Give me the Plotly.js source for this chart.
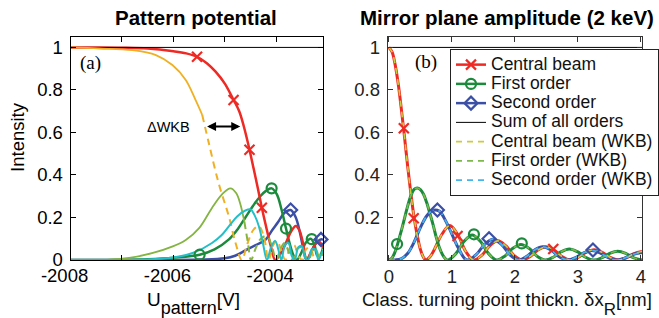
<!DOCTYPE html>
<html><head><meta charset="utf-8">
<script src="https://cdn.plot.ly/plotly-3.0.1.min.js"></script>
<style>html,body{margin:0;padding:0;background:#fff}#chart{width:659px;height:318px}</style>
</head><body><div id="chart"></div>
<script>
// ===== Left panel: Pattern potential (U_pattern in V, intensity) =====
const leftCentralU = [-2008, -2007.5, -2007, -2006.5, -2006.0, -2005.75, -2005.54, -2005.35, -2005.18, -2005.0, -2004.83, -2004.72, -2004.63, -2004.52, -2004.44, -2004.36, -2004.28, -2004.2, -2004.11, -2004.02, -2003.93, -2003.83, -2003.72, -2003.62, -2003.55, -2003.48, -2003.41, -2003.33, -2003.24, -2003.16, -2003.09];
const leftCentralI = [1.0, 1.0, 0.999, 0.995, 0.982, 0.972, 0.956, 0.926, 0.886, 0.83, 0.753, 0.70, 0.628, 0.519, 0.43, 0.34, 0.246, 0.16, 0.07, 0.0, 0.025, 0.07, 0.13, 0.16, 0.14, 0.08, 0.0, 0.035, 0.075, 0.085, 0.06];
const leftCentralMarkU = [-2005.54, -2004.83, -2004.52, -2004.28];
const leftCentralMarkI = [0.956, 0.753, 0.519, 0.246];

const leftFirstU = [-2008, -2007, -2006.5, -2006.0, -2005.49, -2005.2, -2004.92, -2004.75, -2004.6, -2004.45, -2004.31, -2004.2, -2004.09, -2003.99, -2003.9, -2003.81, -2003.73, -2003.66, -2003.6, -2003.52, -2003.43, -2003.33, -2003.26, -2003.2, -2003.14, -2003.09];
const leftFirstI = [0, 0.001, 0.004, 0.011, 0.025, 0.05, 0.097, 0.145, 0.2, 0.255, 0.3, 0.325, 0.337, 0.31, 0.24, 0.148, 0.07, 0.02, 0.0, 0.03, 0.08, 0.1, 0.075, 0.02, 0.025, 0.06];
const leftFirstMarkU = [-2005.49, -2004.09, -2003.81, -2003.31];
const leftFirstMarkI = [0.025, 0.337, 0.148, 0.098];

const leftSecondU = [-2008, -2006, -2005.5, -2005.0, -2004.8, -2004.6, -2004.4, -2004.21, -2004.08, -2003.96, -2003.84, -2003.72, -2003.62, -2003.54, -2003.47, -2003.41, -2003.33, -2003.24, -2003.13, -2003.09];
const leftSecondI = [0, 0, 0.002, 0.008, 0.02, 0.045, 0.07, 0.095, 0.14, 0.18, 0.222, 0.235, 0.2, 0.13, 0.05, 0.0, 0.03, 0.075, 0.097, 0.095];
const leftSecondMarkU = [-2003.72, -2003.13];
const leftSecondMarkI = [0.235, 0.097];

const leftCentralWkbU = [-2008, -2007.44, -2006.8, -2006.34, -2006.02, -2005.76, -2005.57, -2005.44, -2005.31, -2005.12, -2004.92, -2004.79, -2004.67, -2004.57, -2004.45, -2004.34, -2004.24, -2004.15, -2004.06, -2003.98, -2003.9, -2003.82, -2003.73, -2003.65, -2003.57, -2003.49, -2003.42, -2003.34, -2003.27, -2003.2, -2003.13, -2003.09];
const leftCentralWkbI = [1.0, 0.995, 0.987, 0.964, 0.917, 0.847, 0.753, 0.683, 0.549, 0.361, 0.204, 0.079, 0.0, 0.07, 0.14, 0.16, 0.11, 0.0, 0.07, 0.09, 0.04, 0.0, 0.06, 0.07, 0.02, 0.0, 0.05, 0.06, 0.015, 0.0, 0.04, 0.05];
const leftCentralWkbSolidEnd = 8;   // first points drawn solid, rest dashed

const leftFirstWkbU = [-2008, -2007.3, -2006.86, -2006.4, -2006.0, -2005.76, -2005.5, -2005.25, -2005.05, -2004.89, -2004.78, -2004.7, -2004.62, -2004.55, -2004.49, -2004.4, -2004.3, -2004.18, -2004.08, -2004.0, -2003.92, -2003.84, -2003.76, -2003.68, -2003.6, -2003.52, -2003.44, -2003.37, -2003.3, -2003.23, -2003.16, -2003.09];
const leftFirstWkbI = [0, 0.001, 0.01, 0.033, 0.065, 0.094, 0.15, 0.245, 0.31, 0.337, 0.315, 0.265, 0.18, 0.08, 0.0, 0.055, 0.1, 0.113, 0.06, 0.0, 0.05, 0.08, 0.04, 0.0, 0.05, 0.06, 0.02, 0.0, 0.04, 0.05, 0.01, 0.03];
const leftFirstWkbSolidEnd = 13;

const leftSecondWkbU = [-2008, -2007, -2006.6, -2006.0, -2005.6, -2005.25, -2005.05, -2004.9, -2004.76, -2004.6, -2004.5, -2004.42, -2004.34, -2004.26, -2004.18, -2004.1, -2004.02, -2003.96, -2003.9, -2003.83, -2003.76, -2003.7, -2003.64, -2003.57, -2003.5, -2003.44, -2003.38, -2003.31, -2003.24, -2003.18, -2003.12, -2003.09];
const leftSecondWkbI = [0, 0, 0.002, 0.012, 0.035, 0.08, 0.12, 0.165, 0.205, 0.233, 0.238, 0.21, 0.16, 0.08, 0.0, 0.06, 0.09, 0.05, 0.0, 0.07, 0.08, 0.02, 0.0, 0.06, 0.065, 0.01, 0.0, 0.05, 0.05, 0.0, 0.03, 0.045];

const leftSumU = [-2008, -2003.09];
const leftSumI = [1, 1];

// ===== Right panel: Mirror plane amplitude (x in nm) =====
const rightCentralX = [0, 0.05, 0.1, 0.15, 0.2, 0.25, 0.3, 0.35, 0.4, 0.45, 0.5, 0.55, 0.587, 0.65, 0.714, 0.84, 0.967, 1.093, 1.22, 1.346, 1.474, 1.601, 1.729, 1.856, 1.984, 2.111, 2.239, 2.366, 2.494, 2.621, 2.749, 2.876, 3.004, 3.131, 3.259, 3.386, 3.514, 3.642, 3.768, 3.894, 4.02];
const rightCentralI = [1.0, 0.979, 0.918, 0.824, 0.704, 0.573, 0.436, 0.31, 0.2, 0.116, 0.05, 0.012, 0, 0.014, 0.045, 0.12, 0.162, 0.12, 0.04, 0, 0.022, 0.067, 0.09, 0.067, 0.022, 0, 0.016, 0.047, 0.062, 0.047, 0.016, 0, 0.012, 0.036, 0.048, 0.036, 0.012, 0, 0.01, 0.03, 0.04];
const rightCentralMarkX = [0.237, 0.394, 1.09, 2.61];
const rightCentralMarkI = [0.62, 0.196, 0.113, 0.052];

const rightFirstX = [0, 0.05, 0.1, 0.15, 0.2, 0.25, 0.3, 0.35, 0.4, 0.45, 0.5, 0.55, 0.6, 0.65, 0.7, 0.75, 0.8, 0.85, 0.9, 0.935, 1.064, 1.194, 1.323, 1.452, 1.582, 1.711, 1.839, 1.968, 2.096, 2.224, 2.353, 2.481, 2.609, 2.737, 2.865, 2.993, 3.121, 3.249, 3.377, 3.505, 3.633, 3.761, 3.889, 4.017];
const rightFirstI = [0, 0.01, 0.04, 0.087, 0.141, 0.198, 0.256, 0.303, 0.332, 0.339, 0.331, 0.309, 0.27, 0.22, 0.168, 0.109, 0.06, 0.026, 0.005, 0, 0.03, 0.088, 0.118, 0.088, 0.03, 0, 0.018, 0.055, 0.073, 0.055, 0.018, 0, 0.013, 0.039, 0.052, 0.039, 0.013, 0, 0.01, 0.031, 0.041, 0.031, 0.01, 0];
const rightFirstMarkX = [0.13, 1.35, 2.11];
const rightFirstMarkI = [0.075, 0.121, 0.078];

const rightSecondX = [0, 0.1, 0.2, 0.3, 0.4, 0.5, 0.6, 0.7, 0.8, 0.9, 1.0, 1.1, 1.2, 1.253, 1.386, 1.52, 1.653, 1.786, 1.92, 2.053, 2.183, 2.313, 2.443, 2.574, 2.704, 2.834, 2.963, 3.093, 3.222, 3.351, 3.481, 3.61, 3.74, 3.87, 4.02];
const rightSecondI = [0, 0.0004, 0.0067, 0.032, 0.084, 0.152, 0.207, 0.234, 0.23, 0.185, 0.122, 0.058, 0.008, 0, 0.025, 0.074, 0.098, 0.074, 0.025, 0, 0.016, 0.047, 0.062, 0.047, 0.016, 0, 0.011, 0.034, 0.045, 0.034, 0.011, 0, 0.009, 0.026, 0.035];
const rightSecondMarkX = [0.77, 1.59, 3.24];
const rightSecondMarkI = [0.235, 0.1, 0.047];

const rightSumX = [0, 4.02];
const rightSumI = [1, 1];

const seriesNames = ['Central beam', 'First order', 'Second order', 'Sum of all orders',
  'Central beam (WKB)', 'First order (WKB)', 'Second order (WKB)'];
const xTicksLeft = [-2008, -2007, -2006, -2005, -2004, -2003];
const xTickTextLeft = ['-2008', '', '-2006', '', '-2004', ''];
const xTicksRight = [0, 1, 2, 3, 4];
const yTicks = [0, 0.2, 0.4, 0.6, 0.8, 1];
const yTickTextLeft = ['0', '0.2', '0.4', '0.6', '0.8', '1'];
const yTickTextRight = ['', '0.2', '0.4', '0.6', '0.8', '1'];
const deltaWkb = {from: -2005.375, to: -2004.70, level: 0.628};

// ===== styling =====
const W = 659, H = 318;
const FONT = 'Liberation Sans, Arial, sans-serif';
const C = {red: '#ee2a24', green: '#1b8a3c', blue: '#3b4fa6',
  orange: '#f0b023', lgreen: '#84b441', cyan: '#23bfc8',
  wkb0: '#cdcb3c', wkb1: '#7cb94a', wkb2: '#44b4ec'};
const px = v => v / W, py = v => 1 - v / H;
const gaps = a => { const o = []; a.forEach((v, i) => { if (i) o.push(null); o.push(v); }); return o; };
const big = s => '<span style="font-size:17.5px">' + s + '</span>';

function line(x, y, color, width, dash, xa, ya, extra) {
  return Object.assign({type: 'scatter', mode: 'lines', x: x, y: y, xaxis: xa, yaxis: ya,
    line: {color: color, width: width, dash: dash || 'solid', shape: 'spline', smoothing: 1},
    showlegend: false, hoverinfo: 'skip', cliponaxis: true}, extra || {});
}
function marks(x, y, color, symbol, xa, ya, extra) {
  return Object.assign({type: 'scatter', mode: 'lines+markers', x: gaps(x), y: gaps(y), xaxis: xa, yaxis: ya,
    connectgaps: false, line: {color: color, width: 2.5},
    marker: {symbol: symbol, size: 10, color: color, line: {color: color, width: 2.2}},
    showlegend: false, hoverinfo: 'skip', cliponaxis: false}, extra || {});
}

const data = [
  // left panel
  line(leftSecondU, leftSecondI, C.blue, 2.5, null, 'x', 'y'),
  line(leftFirstU, leftFirstI, C.green, 2.5, null, 'x', 'y'),
  line(leftCentralU, leftCentralI, C.red, 2.5, null, 'x', 'y'),
  line(leftSumU, leftSumI, '#000', 1, null, 'x', 'y'),
  line(leftCentralWkbU.slice(0, leftCentralWkbSolidEnd), leftCentralWkbI.slice(0, leftCentralWkbSolidEnd), C.orange, 1.8, null, 'x', 'y'),
  line(leftCentralWkbU.slice(leftCentralWkbSolidEnd - 1), leftCentralWkbI.slice(leftCentralWkbSolidEnd - 1), C.orange, 2, '7px,5px', 'x', 'y'),
  line(leftFirstWkbU.slice(0, leftFirstWkbSolidEnd), leftFirstWkbI.slice(0, leftFirstWkbSolidEnd), C.lgreen, 1.8, null, 'x', 'y'),
  line(leftFirstWkbU.slice(leftFirstWkbSolidEnd - 1), leftFirstWkbI.slice(leftFirstWkbSolidEnd - 1), C.lgreen, 2, '7px,5px', 'x', 'y'),
  line(leftSecondWkbU, leftSecondWkbI, C.cyan, 2, null, 'x', 'y'),
  marks(leftCentralMarkU, leftCentralMarkI, C.red, 'x-thin-open', 'x', 'y'),
  marks(leftFirstMarkU, leftFirstMarkI, C.green, 'circle-open', 'x', 'y'),
  marks(leftSecondMarkU, leftSecondMarkI, C.blue, 'diamond-open', 'x', 'y'),
  // right panel
  line(rightCentralX, rightCentralI, C.red, 3, null, 'x2', 'y2'),
  line(rightFirstX, rightFirstI, C.green, 3, null, 'x2', 'y2'),
  line(rightSecondX, rightSecondI, C.blue, 3, null, 'x2', 'y2'),
  line(rightCentralX, rightCentralI, C.wkb0, 1.6, '6px,5px', 'x2', 'y2', {name: big(seriesNames[4]), showlegend: true, legendrank: 5}),
  line(rightFirstX, rightFirstI, C.wkb1, 1.6, '6px,5px', 'x2', 'y2', {name: big(seriesNames[5]), showlegend: true, legendrank: 6}),
  line(rightSecondX, rightSecondI, C.wkb2, 1.8, '6px,5px', 'x2', 'y2', {name: big(seriesNames[6]), showlegend: true, legendrank: 7}),
  line(rightSumX, rightSumI, '#000', 1, null, 'x2', 'y2', {name: big(seriesNames[3]), showlegend: true, legendrank: 4}),
  marks(rightCentralMarkX, rightCentralMarkI, C.red, 'x-thin-open', 'x2', 'y2', {name: big(seriesNames[0]), showlegend: true, legendrank: 1}),
  marks(rightFirstMarkX, rightFirstMarkI, C.green, 'circle-open', 'x2', 'y2', {name: big(seriesNames[1]), showlegend: true, legendrank: 2}),
  marks(rightSecondMarkX, rightSecondMarkI, C.blue, 'diamond-open', 'x2', 'y2', {name: big(seriesNames[2]), showlegend: true, legendrank: 3})
];

const axisCommon = {showgrid: false, zeroline: false, showline: true, mirror: 'ticks',
  ticks: 'inside', ticklen: 5, tickwidth: 1, tickfont: {family: FONT, size: 18.5}};
const yDomain = [1 - 260 / H, 1 - 37 / H];

const layout = {
  width: W, height: H, margin: {l: 0, r: 0, t: 0, b: 0},
  paper_bgcolor: '#fff', plot_bgcolor: '#fff',
  font: {family: FONT, size: 18.5, color: '#000'},
  xaxis: Object.assign({}, axisCommon, {domain: [px(71), px(325)], range: [-2008, -2003.09], anchor: 'y',
    tickmode: 'array', tickvals: xTicksLeft, ticktext: xTickTextLeft, linecolor: '#000', tickcolor: '#000',
    ticklabelshift: -6, ticklabelstandoff: -1}),
  yaxis: Object.assign({}, axisCommon, {domain: yDomain, range: [0, 1.049], anchor: 'x',
    tickmode: 'array', tickvals: yTicks, ticktext: yTickTextLeft, linecolor: '#000', tickcolor: '#000',
    ticklabelstandoff: 3}),
  xaxis2: Object.assign({}, axisCommon, {domain: [px(390), px(646)], range: [-0.02, 4.02], anchor: 'y2',
    tickmode: 'array', tickvals: xTicksRight, linecolor: '#333', tickcolor: '#333',
    tickfont: {family: FONT, size: 18.5, color: '#222'}, ticklabelshift: -8.5, ticklabelstandoff: 0}),
  yaxis2: Object.assign({}, axisCommon, {domain: yDomain, range: [0, 1.049], anchor: 'x2',
    tickmode: 'array', tickvals: yTicks, ticktext: yTickTextRight, linecolor: '#333', tickcolor: '#333',
    tickfont: {family: FONT, size: 18.5, color: '#222'}, ticklabelstandoff: 3}),
  legend: {x: px(453), y: py(49), xanchor: 'left', yanchor: 'top', bgcolor: '#fff',
    bordercolor: '#222', borderwidth: 1, font: {family: FONT, size: 12.5, color: '#111'}, tracegroupgap: 0},
  showlegend: true,
  annotations: [
    {xref: 'paper', yref: 'paper', x: px(197), y: py(18), text: '<b>Pattern potential</b>', showarrow: false,
      font: {family: FONT, size: 20.5, color: '#000'}, xanchor: 'center', yanchor: 'middle'},
    {xref: 'paper', yref: 'paper', x: px(510), y: py(18), text: '<b>Mirror plane amplitude (2 keV)</b>', showarrow: false,
      font: {family: FONT, size: 20.5, color: '#000'}, xanchor: 'center', yanchor: 'middle'},
    {xref: 'paper', yref: 'paper', x: px(17), y: py(137), text: 'Intensity', textangle: -90, showarrow: false,
      font: {family: FONT, size: 18.5, color: '#000'}, xanchor: 'center', yanchor: 'middle'},
    {xref: 'paper', yref: 'paper', x: px(195), y: py(287), text: 'U<span style="font-size:18px;baseline-shift:-8px">pattern</span>[V]', showarrow: false,
      font: {family: FONT, size: 19, color: '#000'}, xanchor: 'center', yanchor: 'top'},
    {xref: 'paper', yref: 'paper', x: px(510), y: py(287), text: 'Class. turning point thickn. δx<span style="font-size:17px;baseline-shift:-9px">R</span>[nm]', showarrow: false,
      font: {family: FONT, size: 18.5, color: '#111'}, xanchor: 'center', yanchor: 'top'},
    {xref: 'paper', yref: 'paper', x: px(91), y: py(63), text: '(a)', showarrow: false,
      font: {family: 'Liberation Serif, Times New Roman, serif', size: 19, color: '#000'}, xanchor: 'center', yanchor: 'middle'},
    {xref: 'paper', yref: 'paper', x: px(429), y: py(62), text: '(b)', showarrow: false,
      font: {family: 'Liberation Serif, Times New Roman, serif', size: 19, color: '#000'}, xanchor: 'center', yanchor: 'middle'},
    {xref: 'x', yref: 'y', x: deltaWkb.to, y: deltaWkb.level, ax: deltaWkb.from, ay: deltaWkb.level, axref: 'x', ayref: 'y',
      text: '', showarrow: true, arrowhead: 2, startarrowhead: 2, arrowside: 'end+start', arrowsize: 0.9, startarrowsize: 0.9,
      arrowwidth: 2, arrowcolor: '#000', standoff: 0, startstandoff: 0},
    {xref: 'x', yref: 'y', x: deltaWkb.from - 0.26, y: deltaWkb.level, text: 'ΔWKB', showarrow: false,
      font: {family: FONT, size: 14.5, color: '#000'}, xanchor: 'right', yanchor: 'middle'}
  ]
};

Plotly.newPlot('chart', data, layout, {displayModeBar: false, staticPlot: true});
</script>
</body></html>
